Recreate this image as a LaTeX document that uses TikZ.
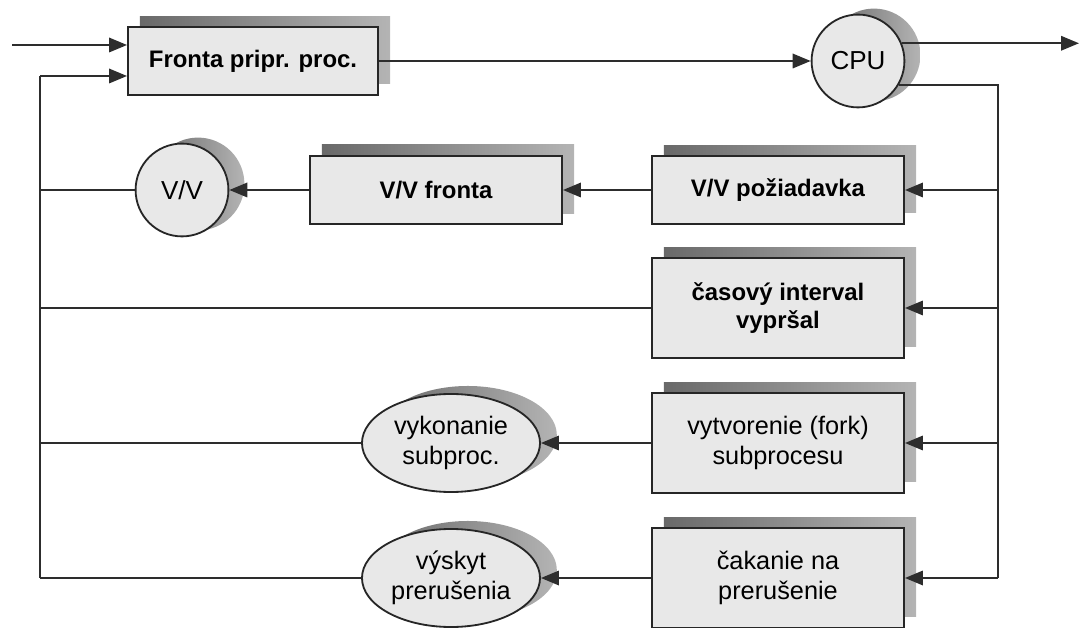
\documentclass[tikz,border=0pt]{standalone}
\usepackage{fontspec}
\setmainfont{Liberation Sans}
\usepackage{xcolor}
\usepackage{tikz}
\usetikzlibrary{arrows.meta, positioning, shapes.geometric, shadows, calc}
\definecolor{wire}{RGB}{45,45,45}
\definecolor{boxfill}{RGB}{232,232,232}
\definecolor{shadowdk}{RGB}{105,105,105}
\definecolor{shadowlt}{RGB}{180,180,180}

\begin{document}
\begin{tikzpicture}[
  x=0.025cm, y=-0.025cm,
  font=\fontsize{17}{20.5}\selectfont\bfseries,
  plain/.style={font=\fontsize{18}{21}\selectfont},
  qbox/.style={rectangle, draw=black!85, line width=1.3pt, fill=boxfill,
               align=center, minimum width=6.3cm, minimum height=1.68cm,
               general shadow={shadow xshift=0.3cm, shadow yshift=0.28cm,
                               left color=shadowdk, right color=shadowlt}},
  tallbox/.style={qbox, minimum height=2.48cm},
  srv/.style={circle, draw=black!85, line width=1.3pt, fill=boxfill,
              minimum size=2.32cm, inner sep=0pt, font=\fontsize{18.5}{21}\selectfont,
              general shadow={shadow xshift=0.4cm, shadow yshift=0.15cm,
                              left color=shadowdk, right color=shadowlt}},
  evt/.style={ellipse, draw=black!85, line width=1.3pt, fill=boxfill,
              minimum width=4.45cm, minimum height=2.45cm, inner sep=0pt, align=center,
              plain,
              general shadow={shadow xshift=0.42cm, shadow yshift=0.2cm,
                              left color=shadowdk, right color=shadowlt}},
  fl/.style={-{Triangle[length=0.45cm, width=0.36cm]}, line width=1.5pt, wire},
  ln/.style={-, line width=1.5pt, wire}
]
\useasboundingbox (0,0) rectangle (1082,628);

% ready queue and CPU
\node[qbox, minimum width=6.25cm] (ready) at (253,61) {Fronta pripr. proc.};
\node[srv] (cpu) at (858,61) {CPU};
\draw[fl] (ready) -- (cpu);

% entry and exit
\coordinate (in) at (12,45);
\coordinate (lp) at (40,76);
\coordinate (rp) at (998,83);
\coordinate (out) at (1079,43);
\draw[fl] (in) -- (in -| ready.west);
\draw[fl] (lp) -- (lp -| ready.west);
\draw[fl] (cpu.22) -- (cpu.22 -| out);

% I/O branch
\node[qbox] (vvreq) at (778,190) {V/V požiadavka};
\node[qbox, minimum height=1.72cm] (vvq) at (436,190) {V/V fronta};
\node[srv] (vv) at (182,190) {V/V};
\draw[fl] (vvreq) -- (vvq);
\draw[fl] (vvq) -- (vv);

% time slice
\node[tallbox] (slice) at (778,308) {časový interval\\vypršal};

% fork
\node[tallbox, plain] (fork) at (778,443) {vytvorenie (fork)\\subprocesu};
\node[evt] (child) at (451,443) {vykonanie\\subproc.};
\draw[fl] (fork) -- (child);

% interrupt
\node[tallbox, plain] (wait) at (778,578) {čakanie na\\prerušenie};
\node[evt] (irq) at (451,578) {výskyt\\prerušenia};
\draw[fl] (wait) -- (irq);

% right bus from CPU
\draw[ln] (cpu.-30) -- (cpu.-30 -| rp) -- (rp |- wait.east);
\foreach \n in {vvreq, slice, fork, wait}
  \draw[fl] (rp |- \n.east) -- (\n.east);

% left bus back to queue
\draw[ln] (lp) -- (lp |- irq.west);
\foreach \n in {vv, slice, child, irq}
  \draw[ln] (\n.west) -- (lp |- \n.west);

\end{tikzpicture}
\end{document}
